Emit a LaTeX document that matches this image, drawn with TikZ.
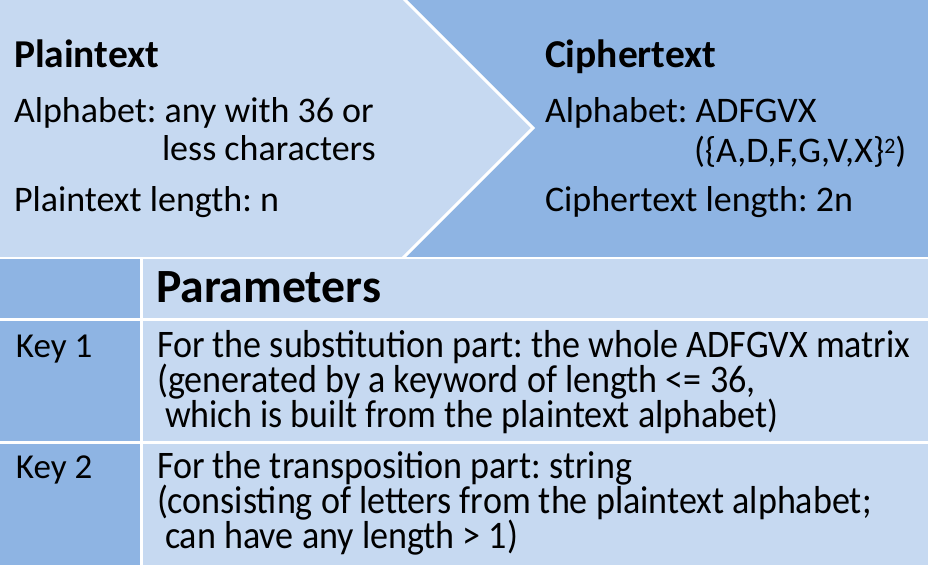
\documentclass[tikz,border=0pt]{standalone}
\usepackage{fontspec}
\setmainfont{Carlito}
\newfontfamily\condfont[FakeStretch=0.925]{Carlito}
\frenchspacing
\begin{document}
\begin{tikzpicture}[x=1pt,y=-1pt,
  txt/.style={anchor=base west,inner sep=0pt,outer sep=0pt},
  body/.style={txt,font=\fontsize{36}{40}\selectfont},
  title/.style={txt,font=\fontsize{39.5}{44}\selectfont\bfseries},
  cell/.style={txt,font=\fontsize{39}{35}\condfont,text height=25pt,text depth=8pt},
  keytxt/.style={txt,font=\fontsize{35}{40}\selectfont},
  sep/.style={white,line width=3pt}]
\definecolor{paleblue}{HTML}{C6D9F1}
\definecolor{midblue}{HTML}{8EB4E3}
\useasboundingbox (0,0) rectangle (928,565);
% top band: plaintext chevron pointing into the ciphertext area
\fill[midblue] (0,0) rectangle (928,257);
\fill[paleblue] (0,0) -- (403,0) -- (533,128) -- (403,257) -- (0,257) -- cycle;
\draw[sep] (403,-2) -- (533,128) -- (403,258);
% parameter table
\fill[white] (0,257) rectangle (928,565);
\fill[midblue] (0,259) rectangle (140,318);
\fill[paleblue] (143,259) rectangle (928,318);
\fill[midblue] (0,321) rectangle (140,441);
\fill[paleblue] (143,321) rectangle (928,441);
\fill[midblue] (0,444) rectangle (140,565);
\fill[paleblue] (143,444) rectangle (928,565);
% plaintext side
\node[title] (ptitle) at (14,67) {Plaintext};
\node[body] (palpha) at (14,122) {Alphabet: any with 36 or};
\node[body] (palpha2) at (162,160) {less characters};
\node[body] (plen) at (14,211) {Plaintext length: n};
% ciphertext side
\node[title] (ctitle) at (545,67) {Ciphertext};
\node[body] (calpha) at (545,122) {Alphabet: ADFGVX};
\node[body] (calpha2) at (694,162) {(\{A,D,F,G,V,X\}{\fontsize{22}{22}\selectfont\raisebox{9pt}{2}})};
\node[body] (clen) at (545,211) {Ciphertext length: 2n};
% table contents
\node[txt,font=\fontsize{47.7}{50}\selectfont\bfseries] (params) at (156,302) {Parameters};
\node[keytxt] (key1) at (16,357) {Key 1};
\node[cell] (k1a) at (157,357) {For the substitution part: the whole ADFGVX matrix};
\node[cell] (k1b) at (157,392) {(generated by a keyword of length <= 36,};
\node[cell] (k1c) at (165,427) {which is built from the plaintext alphabet)};
\node[keytxt] (key2) at (16,478) {Key 2};
\node[cell] (k2a) at (157,478) {For the transposition part: string};
\node[cell] (k2b) at (157,513) {(consisting of letters from the plaintext alphabet;};
\node[cell] (k2c) at (165,548) {can have any length > 1)};
\end{tikzpicture}
\end{document}
